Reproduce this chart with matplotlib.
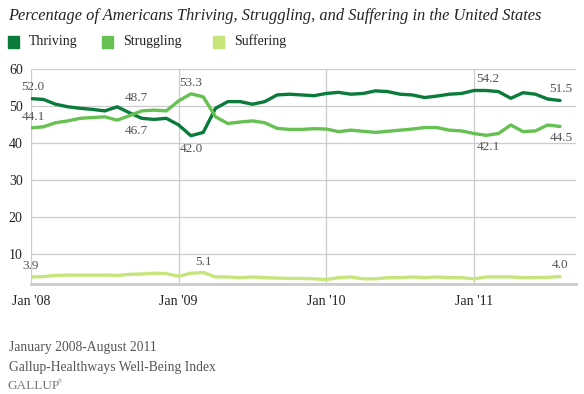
import numpy as np
import matplotlib
matplotlib.use('Agg')
import matplotlib.pyplot as plt
from matplotlib.patches import Rectangle

# monthly, Jan 2008 - Aug 2011
thriving = [52.0, 51.8, 50.5, 49.8, 49.4, 49.1, 48.7, 49.8, 48.2, 46.7, 46.4, 46.7,
            44.9, 42.0, 42.9, 49.4, 51.2, 51.2, 50.5, 51.2, 53.0, 53.2, 53.0, 52.8,
            53.4, 53.7, 53.2, 53.4, 54.1, 53.9, 53.2, 53.0, 52.3, 52.7, 53.2, 53.4,
            54.2, 54.2, 53.9, 52.1, 53.6, 53.2, 51.9, 51.5]
struggling = [44.1, 44.4, 45.5, 46.0, 46.7, 46.9, 47.1, 46.2, 47.4, 48.7, 48.9, 48.7,
              51.4, 53.3, 52.5, 47.1, 45.3, 45.7, 46.0, 45.5, 44.0, 43.7, 43.7, 43.9,
              43.8, 43.1, 43.5, 43.2, 42.9, 43.2, 43.5, 43.8, 44.2, 44.2, 43.5, 43.3,
              42.6, 42.1, 42.6, 44.9, 43.1, 43.3, 44.9, 44.5]
suffering = [3.9, 4.0, 4.3, 4.4, 4.4, 4.4, 4.4, 4.3, 4.6, 4.7, 4.9, 4.8,
             4.1, 4.9, 5.1, 3.9, 3.9, 3.7, 3.9, 3.7, 3.6, 3.5, 3.5, 3.4,
             3.2, 3.7, 3.9, 3.4, 3.4, 3.7, 3.7, 3.9, 3.7, 3.9, 3.7, 3.7,
             3.4, 3.9, 3.9, 3.9, 3.7, 3.7, 3.8, 4.0]
series_names = ['Thriving', 'Struggling', 'Suffering']
colors = ['#0a7b3a', '#66c152', '#c6e57a']
xtick_pos = [0, 12, 24, 36]
xtick_labels = ["Jan '08", "Jan '09", "Jan '10", "Jan '11"]
yticks = [10, 20, 30, 40, 50, 60]

# (series index, month, offset px x, offset px y)
labels = [(0, 0, 2, 12), (1, 0, 2, 11), (1, 9, -5, 13), (0, 9, -5, -13),
          (1, 13, 0, 11), (0, 13, 0, -13), (0, 37, 2, 12), (1, 37, 2, -12),
          (0, 43, 1, 12), (1, 43, 1, -12), (2, 0, 0, 11), (2, 14, 0, 11),
          (2, 43, 0, 12)]

plt.rcParams['font.family'] = ['Liberation Serif', 'DejaVu Serif']
txt = '#555555'

fig = plt.figure(figsize=(5.84, 3.94), dpi=100)
ax = fig.add_axes([31/584, 1-284/394, 545/584, 215/394])

data = [thriving, struggling, suffering]
x = np.arange(len(thriving))
for vals, c in zip(data, colors):
    ax.plot(x, vals, color=c, lw=2.4, solid_joinstyle='round', solid_capstyle='round', zorder=3)

for si, m, dx, dy in labels:
    v = data[si][m]
    ax.annotate(f'{v:.1f}', xy=(m, v), xytext=(dx, dy), textcoords='offset pixels',
                ha='center', va='center', fontsize=9.5, color=txt, zorder=4)

ax.set_xlim(0, 44.3)
ax.set_ylim(2, 60)
ax.set_yticks(yticks)
ax.set_yticklabels([str(t) for t in yticks])
ax.set_xticks(xtick_pos)
ax.set_xticklabels(xtick_labels)
ax.tick_params(length=0, labelsize=10, labelcolor='#222222')
ax.tick_params(axis='x', pad=8)
ax.tick_params(axis='y', pad=6)
ax.grid(True, color='#cccccc', lw=0.9)
ax.set_axisbelow(True)
for s in ['top', 'right', 'left']:
    ax.spines[s].set_visible(False)
ax.spines['bottom'].set_color('#cccccc')
ax.spines['bottom'].set_linewidth(2)

fig.text(8/584, 1-16/394, 'Percentage of Americans Thriving, Struggling, and Suffering in the United States',
         fontsize=11.8, style='italic', color='#222222', va='center', ha='left')

leg_x = [8, 102, 213]
for name, c, lx in zip(series_names, colors, leg_x):
    fig.add_artist(Rectangle((lx/584, 1-48/394), 11/584, 12/394, color=c, transform=fig.transFigure))
    fig.text((lx+21)/584, 1-41/394, name, fontsize=10, color='#222222', va='center', ha='left')

fig.text(9/584, 1-347/394, 'January 2008-August 2011', fontsize=9.8, color=txt, va='center')
fig.text(9/584, 1-367/394, 'Gallup-Healthways Well-Being Index', fontsize=9.8, color=txt, va='center')
fig.text(7/584, 1-386/394, 'GALLUP', fontsize=9.5, color='#777777', va='center')
fig.text(58/584, 1-382/394, '\u00ae', fontsize=4, color='#777777', va='center')

fig.savefig('out.png', dpi=100)
